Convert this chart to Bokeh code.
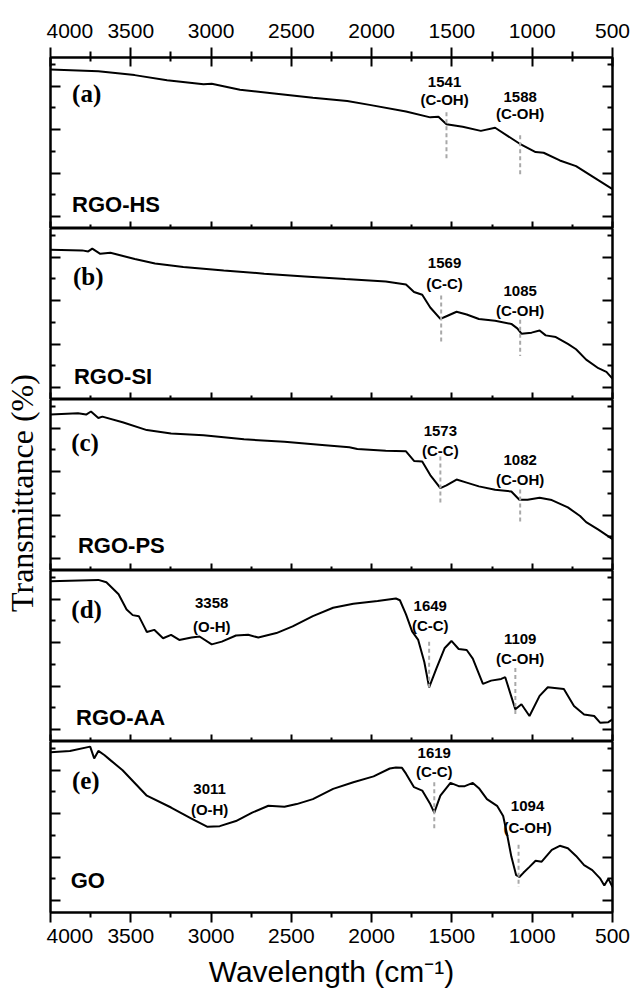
from bokeh.plotting import figure
from bokeh.models import Range1d, LinearAxis, FixedTicker, CustomJSTickFormatter, ColumnDataSource
from bokeh.layouts import column, row
from bokeh.embed import file_html
from bokeh.resources import INLINE
from bokeh.core.properties import value

# ---------------- data ----------------
x_major = [4000, 3500, 3000, 2500, 2000, 1500, 1000, 500]
x_minor = [3750, 3250, 2750, 2250, 1750, 1250, 750]
x_tick_labels = ["4000", "3500", "3000", "2500", "2000", "1500", "1000", "500"]

panel_ids = ["a", "b", "c", "d", "e"]
sample_names = ["RGO-HS", "RGO-SI", "RGO-PS", "RGO-AA", "GO"]
panel_letters = ["(a)", "(b)", "(c)", "(d)", "(e)"]

wn_a = [4000, 3702, 3476, 3274, 3047, 2996, 2820, 2593, 2366, 2152, 2013, 1786, 1635, 1584, 1534,
        1433, 1320, 1231, 1080, 979, 929, 828, 727, 626, 500]
t_a = [93.0, 92.0, 89.7, 86.7, 84.3, 84.7, 81.2, 78.8, 76.4, 74.5, 72.3, 68.4, 65.0, 65.4, 61.0,
       59.5, 57.1, 58.9, 49.7, 44.7, 44.3, 39.8, 36.5, 30.5, 23.0]

wn_b = [4000, 3803, 3765, 3740, 3690, 3627, 3475, 3349, 3173, 2921, 2669, 2416, 2164, 1912, 1786,
        1736, 1685, 1635, 1572, 1534, 1471, 1408, 1332, 1231, 1130, 1093, 1067, 1004, 954, 916,
        853, 778, 727, 664, 588, 538, 500]
t_b = [87.6, 87.2, 86.6, 88.2, 85.2, 85.8, 82.2, 79.5, 77.5, 75.5, 73.6, 72.0, 70.4, 69.0, 67.3,
       62.9, 61.3, 53.8, 47.1, 48.7, 51.3, 49.7, 47.1, 46.0, 44.2, 41.6, 38.5, 39.1, 40.4, 37.5,
       36.5, 32.5, 29.4, 23.3, 18.3, 16.2, 12.2]

wn_c = [4000, 3829, 3778, 3748, 3702, 3677, 3551, 3400, 3249, 3047, 2795, 2543, 2290, 2139, 2089,
        1912, 1786, 1736, 1685, 1635, 1572, 1534, 1471, 1408, 1332, 1231, 1130, 1080, 1029, 954,
        878, 778, 702, 664, 588, 500]
t_c = [91.2, 92.0, 91.2, 93.0, 89.2, 90.0, 86.7, 82.1, 80.1, 79.1, 76.7, 75.3, 73.3, 72.1, 71.1,
       70.1, 69.7, 64.1, 63.7, 55.8, 48.2, 49.8, 53.2, 51.4, 49.2, 47.2, 46.2, 41.4, 41.4, 42.6,
       41.2, 36.9, 31.9, 28.3, 23.9, 18.3]

wn_d = [4000, 3702, 3652, 3576, 3526, 3488, 3450, 3412, 3400, 3354, 3299, 3249, 3198, 3122, 3072,
        2996, 2933, 2845, 2769, 2706, 2593, 2492, 2366, 2240, 2114, 1963, 1849, 1824, 1786, 1748,
        1710, 1672, 1642, 1597, 1546, 1503, 1458, 1408, 1370, 1307, 1256, 1193, 1168, 1135, 1105,
        1067, 1017, 954, 903, 803, 740, 677, 614, 576, 526, 500]
t_d = [93.7, 94.5, 93.1, 86.1, 77.2, 73.9, 73.3, 66.3, 64.0, 65.3, 60.4, 62.4, 59.4, 60.8, 61.4,
       56.8, 58.4, 62.0, 62.4, 60.8, 63.4, 67.3, 73.3, 78.2, 80.6, 82.2, 83.6, 82.6, 74.3, 64.4,
       59.4, 46.5, 31.7, 42.6, 54.5, 58.8, 54.1, 53.5, 48.5, 33.7, 35.6, 36.6, 37.6, 27.7, 18.8,
       21.8, 14.9, 26.7, 31.7, 30.7, 20.8, 15.8, 14.9, 10.9, 11.3, 12.9]

wn_e = [4000, 3879, 3753, 3728, 3702, 3665, 3627, 3551, 3400, 3249, 3122, 3022, 2946, 2845, 2744,
        2643, 2543, 2467, 2366, 2240, 2114, 1988, 1887, 1849, 1811, 1786, 1736, 1685, 1635, 1610,
        1572, 1509, 1458, 1420, 1370, 1332, 1282, 1219, 1181, 1156, 1130, 1100, 1080, 1055, 1017,
        979, 941, 878, 828, 778, 727, 677, 626, 576, 551, 526, 500]
t_e = [93.7, 94.5, 97.0, 90.1, 94.5, 92.1, 89.1, 83.2, 68.3, 61.4, 54.9, 50.1, 50.5, 53.5, 58.4,
       62.4, 61.8, 63.4, 66.3, 72.3, 76.2, 79.6, 84.2, 84.8, 84.6, 81.2, 73.3, 71.3, 63.4, 58.4,
       68.3, 75.8, 73.9, 73.9, 75.8, 72.7, 66.3, 62.4, 56.4, 45.5, 32.7, 21.8, 20.8, 23.2, 26.7,
       30.3, 29.7, 36.6, 39.0, 37.6, 33.1, 27.7, 24.8, 19.8, 15.8, 19.8, 14.9]

# peak annotations: x position, y of number, y of group, number text, group text
ann_x = {"a": [1546, 1075], "b": [1546, 1075], "c": [1572, 1075],
         "d": [2996, 1635, 1075], "e": [3009, 1610, 1029]}
ann_ynum = {"a": [85.5, 77.0], "b": [80.0, 63.5], "c": [81.5, 64.5],
            "d": [81.0, 79.0, 60.0], "e": [72.0, 93.5, 62.0]}
ann_ygrp = {"a": [75.6, 67.1], "b": [68.0, 52.0], "c": [70.0, 53.5],
            "d": [67.3, 67.8, 48.8], "e": [60.0, 82.5, 50.0]}
ann_num = {"a": ["1541", "1588"], "b": ["1569", "1085"], "c": ["1573", "1082"],
           "d": ["3358", "1649", "1109"], "e": ["3011", "1619", "1094"]}
ann_grp = {"a": ["(C-OH)", "(C-OH)"], "b": ["(C-C)", "(C-OH)"], "c": ["(C-C)", "(C-OH)"],
           "d": ["(O-H)", "(C-C)", "(C-OH)"], "e": ["(O-H)", "(C-C)", "(C-OH)"]}
# dashed marker lines: x, y top, y bottom
mark_x = {"a": [1534, 1075], "b": [1567, 1075], "c": [1572, 1075], "d": [1642, 1105], "e": [1610, 1085]}
mark_y0 = {"a": [68.0, 54.5], "b": [60.8, 46.7], "c": [66.7, 47.4], "d": [58.4, 43.0], "e": [76.2, 39.6]}
mark_y1 = {"a": [40.0, 31.0], "b": [32.5, 25.4], "c": [39.8, 26.9], "d": [31.7, 15.8], "e": [48.5, 14.9]}

letter_x = [3775, 3765, 3785, 3775, 3780]
letter_y = [78.7, 72.0, 74.7, 77.2, 77.2]
name_x = [3866, 3854, 3829, 3841, 3874]
name_y = [13.8, 13.2, 14.9, 13.9, 18.8]

y_major = [7.0, 32.4, 57.8, 83.2]
y_minor = [19.7, 45.1, 70.5, 95.9]

series = {"a": (wn_a, t_a), "b": (wn_b, t_b), "c": (wn_c, t_c), "d": (wn_d, t_d), "e": (wn_e, t_e)}

y_title = "Transmittance (%)"
x_title = "Wavelength (cm\u207b\u00b9)"

# ---------------- plot ----------------
SANS = "Liberation Sans"
SERIF = "Liberation Serif"
TOP, FRAME_H, BOT = 57, 171, 91
TITLE_W = 46

xr = Range1d(4000, 500)
blank = CustomJSTickFormatter(code="return ''")

figs = []
for i, pid in enumerate(panel_ids):
    top = TOP if i == 0 else 0
    bot = BOT if i == 4 else 0
    p = figure(frame_width=562, frame_height=FRAME_H, x_range=xr, y_range=Range1d(0, 100),
               output_backend="svg", toolbar_location=None,
               x_axis_location=None, y_axis_location=None,
               min_border_left=4, min_border_right=22, min_border_top=top, min_border_bottom=bot)
    p.grid.visible = False
    p.outline_line_color = "black"
    p.outline_line_width = 2
    p.background_fill_color = "white"
    p.border_fill_color = "white"

    for loc in ("left", "right"):
        ax = LinearAxis(ticker=FixedTicker(ticks=y_major, minor_ticks=y_minor), formatter=blank,
                        major_tick_in=10, major_tick_out=0, minor_tick_in=5, minor_tick_out=0,
                        axis_line_width=2, major_tick_line_width=2, minor_tick_line_width=2,
                        major_label_standoff=0, major_label_text_font_size="10px")
        p.add_layout(ax, loc)

    xt = FixedTicker(ticks=x_major, minor_ticks=x_minor)
    overrides = {v: s for v, s in zip(x_major, x_tick_labels)}
    if i == 4:
        bx = LinearAxis(ticker=xt, major_tick_in=0, major_tick_out=10, minor_tick_in=0, minor_tick_out=5,
                        axis_line_width=2, major_tick_line_width=2, minor_tick_line_width=2,
                        major_label_overrides=overrides, major_label_standoff=6,
                        major_label_text_font=SANS, major_label_text_font_size="21px",
                        major_label_text_color="black",
                        axis_label=x_title, axis_label_text_font=SANS, axis_label_text_color="black",
                        axis_label_text_font_style="normal", axis_label_text_font_size="30px",
                        axis_label_standoff=9)
    else:
        bx = LinearAxis(ticker=xt, formatter=blank, major_tick_in=7, major_tick_out=0,
                        minor_tick_in=4, minor_tick_out=0, axis_line_width=2,
                        major_tick_line_width=2, minor_tick_line_width=2,
                        major_label_standoff=0, major_label_text_font_size="10px")
    p.add_layout(bx, "below")
    if i == 0:
        ax_top = LinearAxis(ticker=FixedTicker(ticks=x_major, minor_ticks=x_minor),
                            major_tick_in=9, major_tick_out=10, minor_tick_in=4, minor_tick_out=6,
                            axis_line_width=2, major_tick_line_width=2, minor_tick_line_width=2,
                            major_label_overrides=overrides, major_label_standoff=10,
                            major_label_text_font=SANS, major_label_text_font_size="21px",
                            major_label_text_color="black")
        p.add_layout(ax_top, "above")

    wn, tt = series[pid]
    p.line(wn, tt, line_color="black", line_width=2)

    msrc = ColumnDataSource(dict(x=mark_x[pid], y0=mark_y0[pid], y1=mark_y1[pid]))
    p.segment(x0="x", y0="y0", x1="x", y1="y1", source=msrc, line_color="#a8a8a8",
              line_width=2, line_dash="4 3")

    asrc = ColumnDataSource(dict(x=ann_x[pid], yn=ann_ynum[pid], yg=ann_ygrp[pid],
                                 num=ann_num[pid], grp=ann_grp[pid]))
    for ycol, tcol in (("yn", "num"), ("yg", "grp")):
        p.text(x="x", y=ycol, text=tcol, source=asrc, text_align="center", text_baseline="middle",
               text_font=value(SANS), text_font_style="bold", text_font_size="15px",
               text_color="black")

    p.text(x=[letter_x[i]], y=[letter_y[i]], text=[panel_letters[i]], text_align="center",
           text_baseline="middle", text_font=value(SERIF), text_font_style="bold",
           text_font_size="25px", text_color="black")
    p.text(x=[name_x[i]], y=[name_y[i]], text=[sample_names[i]], text_align="left",
           text_baseline="middle", text_font=value(SANS), text_font_style="bold",
           text_font_size="22px", text_color="black")
    figs.append(p)

# narrow side figure whose invisible left axis carries the shared y-axis title
tf = figure(frame_width=1, frame_height=5 * FRAME_H, x_range=Range1d(0, 1), y_range=Range1d(0, 1),
            output_backend="svg", toolbar_location=None,
            x_axis_location=None, y_axis_location=None,
            min_border_left=TITLE_W - 1, min_border_right=0,
            min_border_top=TOP + 8, min_border_bottom=BOT - 8)
tf.grid.visible = False
tf.outline_line_color = None
tf.background_fill_color = "white"
tf.border_fill_color = "white"
title_axis = LinearAxis(ticker=FixedTicker(ticks=[]), formatter=blank,
                        axis_line_color=None, major_tick_line_color=None, minor_tick_line_color=None,
                        major_tick_out=0, major_tick_in=0, minor_tick_out=0, minor_tick_in=0,
                        major_label_standoff=0, major_label_text_font_size="10px",
                        axis_label=y_title, axis_label_text_font=SERIF,
                        axis_label_text_font_style="normal", axis_label_text_font_size="32px",
                        axis_label_text_color="black", axis_label_standoff=6)
tf.add_layout(title_axis, "left")

layout = row(tf, column(*figs, spacing=0), spacing=0)
open("out.html", "w").write(file_html(layout, INLINE))
